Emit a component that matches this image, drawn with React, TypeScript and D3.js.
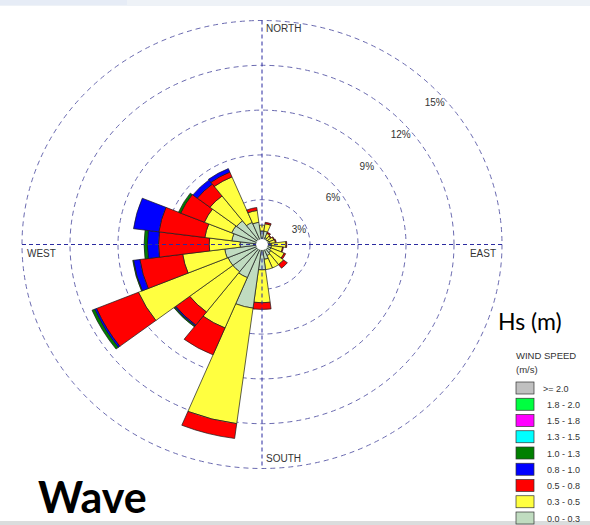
import React from 'react';
import * as d3 from 'd3';

// ---- data ----
const directions = [0, 15, 30, 45, 60, 75, 90, 105, 120, 135, 150, 165, 180, 195, 210, 225, 240, 255, 270, 285, 300, 315, 330, 345];
const speedLabels = ['0.0 - 0.3', '0.3 - 0.5', '0.5 - 0.8', '0.8 - 1.0', '1.0 - 1.3', '1.3 - 1.5', '1.5 - 1.8', '1.8 - 2.0', '>= 2.0'];
const speedColors = ['#C0DCC0', '#FFFF40', '#FF0000', '#0000FF', '#008000', '#00FFFF', '#FF00FF', '#00FF40', '#C0C0C0'];
// percentage of occurrence per direction, one array per speed class
const s00_03 = [0.9, 0.9, 0.5, 0.4, 0.45, 0.5, 0.6, 0.6, 0.6, 0.7, 0.8, 1.0, 1.7, 4.3, 2.4, 2.3, 2.3, 2.35, 1.37, 1.9, 2.05, 2.0, 1.6, 1.5];
const s03_05 = [0.4, 0.5, 0.3, 0.3, 0.35, 0.35, 0.9, 0.7, 0.9, 1.0, 0.9, 0.7, 2.2, 7.8, 3.65, 3.4, 6.06, 2.65, 1.93, 1.7, 1.85, 2.1, 3.3, 0.8];
const s05_08 = [0, 0.1, 0.08, 0.05, 0.05, 0.05, 0.05, 0.05, 0.1, 0.3, 0, 0, 0.45, 1.0, 1.95, 1.1, 2.84, 2.7, 3.17, 2.9, 1.6, 1.0, 0.35, 0.2];
const s08_10 = [0, 0, 0, 0, 0, 0, 0, 0, 0, 0, 0, 0, 0, 0, 0, 0.08, 0.12, 0.4, 0.7, 1.6, 0, 0.35, 0.25, 0];
const s10_13 = [0, 0, 0, 0, 0, 0, 0, 0, 0, 0, 0, 0, 0, 0, 0, 0.07, 0.18, 0.05, 0.2, 0, 0.15, 0, 0, 0];
const s13_15 = [0, 0, 0, 0, 0, 0, 0, 0, 0, 0, 0, 0, 0, 0, 0, 0, 0, 0, 0, 0, 0, 0, 0, 0];
const s15_18 = [0, 0, 0, 0, 0, 0, 0, 0, 0, 0, 0, 0, 0, 0, 0, 0, 0, 0, 0, 0, 0, 0, 0, 0];
const s18_20 = [0, 0, 0, 0, 0, 0, 0, 0, 0, 0, 0, 0, 0, 0, 0, 0, 0, 0, 0, 0, 0, 0, 0, 0];
const s20 = [0, 0, 0, 0, 0, 0, 0, 0, 0, 0, 0, 0, 0, 0, 0, 0, 0, 0, 0, 0, 0, 0, 0, 0];
const ringTicks = [3, 6, 9, 12, 15];
const compassLabels = ['NORTH', 'EAST', 'SOUTH', 'WEST'];

const series = [s00_03, s03_05, s05_08, s08_10, s10_13, s13_15, s15_18, s18_20, s20];

export default function App() {
  const W = 590, H = 525;
  const cx = 262, cy = 244.5;
  const ryMax = 224, rxMax = 240;
  const sx = rxMax / ryMax;
  const r = d3.scaleLinear().domain([0, 15]).range([0, ryMax]);
  const half = 7.5 * Math.PI / 180;
  const arc = d3.arc<any>();

  const segs: any[] = [];
  directions.forEach((dir, i) => {
    let acc = 0;
    series.forEach((s, k) => {
      const v = s[i];
      if (v <= 0) return;
      const a = dir * Math.PI / 180;
      segs.push({
        key: `${dir}-${k}`,
        d: arc({ innerRadius: r(acc), outerRadius: r(acc + v), startAngle: a - half, endAngle: a + half }),
        fill: speedColors[k],
      });
      acc += v;
    });
  });

  const font = 'Liberation Sans, Arial, sans-serif';
  const legendRows = speedLabels.map((l, k) => ({ label: l, color: speedColors[k] })).reverse();

  return (
    <svg width={W} height={H} style={{ position: 'absolute', left: 0, top: 0, background: '#fff' }}>
      <rect x={0} y={0} width={W} height={H} fill="#fff" />
      <rect x={0} y={0} width={W} height={6} fill="#EEF2F7" />
      <rect x={0} y={0} width={127} height={5} fill="#E6ECF6" />
      <rect x={0} y={521} width={W} height={4} fill="#DADDDD" />

      {ringTicks.map(t => (
        <ellipse key={t} cx={cx} cy={cy} rx={r(t) * sx} ry={r(t)} fill="none" stroke="#6A6AB0" strokeWidth={1} strokeDasharray="5,4" />
      ))}

      <g transform={`translate(${cx},${cy}) scale(${sx},1)`}>
        {segs.map(s => (
          <path key={s.key} d={s.d} fill={s.fill} stroke="#1a1a1a" strokeWidth={0.7} vectorEffect="non-scaling-stroke" />
        ))}
      </g>

      <line x1={cx} x2={cx} y1={cy - ryMax} y2={cy + ryMax} stroke="#2B2BA0" strokeWidth={1} strokeDasharray="4,3" />
      <line x1={cx - rxMax} x2={cx + rxMax} y1={cy} y2={cy} stroke="#2B2BA0" strokeWidth={1} strokeDasharray="4,3" />
      <ellipse cx={cx} cy={cy} rx={5.5 * sx} ry={5.5} fill="#fff" />

      {ringTicks.map(t => (
        <text key={t} x={cx + r(t) * sx * Math.SQRT1_2 + 3} y={cy - r(t) * Math.SQRT1_2 + 17.5}
          fontFamily={font} fontSize={10} fill="#333" textAnchor="middle" dominantBaseline="middle">{t}%</text>
      ))}

      <text x={cx + 4} y={cy - ryMax + 11} fontFamily={font} fontSize={10} fill="#333">{compassLabels[0]}</text>
      <text x={cx + 4} y={cy + ryMax - 7} fontFamily={font} fontSize={10} fill="#333">{compassLabels[2]}</text>
      <text x={cx - rxMax + 5} y={cy + 12} fontFamily={font} fontSize={10} fill="#333">{compassLabels[3]}</text>
      <text x={cx + rxMax - 6} y={cy + 12} fontFamily={font} fontSize={10} fill="#333" textAnchor="end">{compassLabels[1]}</text>

      <text x={498} y={330} fontFamily="Lato, sans-serif" fontSize={23} fill="#000">Hs (m)</text>

      <text x={516} y={359} fontFamily={font} fontSize={9.5} fill="#333">WIND SPEED</text>
      <text x={516} y={373} fontFamily={font} fontSize={9.5} fill="#333">(m/s)</text>
      {legendRows.map((row, i) => (
        <g key={row.label} transform={`translate(516, ${382 + i * 16.25})`}>
          <rect x={0} y={0} width={18} height={12} fill={row.color} stroke="#333" strokeWidth={0.7} />
          <text x={i === 0 ? 27 : 31} y={9.5} fontFamily={font} fontSize={9} fill="#333">{row.label}</text>
        </g>
      ))}

      <text x={38} y={513} fontFamily="Lato, sans-serif" fontWeight="bold" fontSize={43} fill="#000">Wave</text>
    </svg>
  );
}
